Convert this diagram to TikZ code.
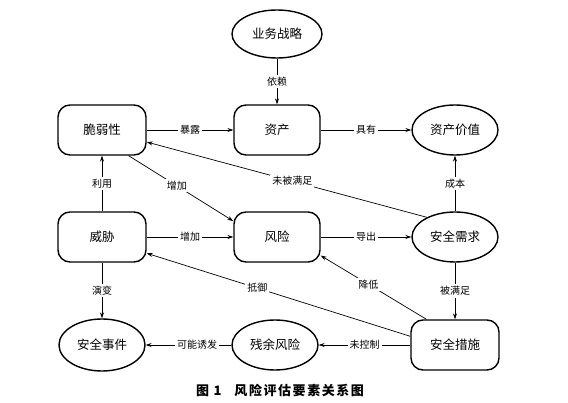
\documentclass[tikz,border=0pt]{standalone}
\usepackage{fontspec}
\setmainfont{Noto Sans CJK SC}
\newfontfamily\capfont[LetterSpace=12]{Noto Sans CJK SC}
\usetikzlibrary{shapes.geometric,arrows.meta}

\begin{document}
\begin{tikzpicture}[x=1pt,y=-1pt,
    box/.style={draw, rounded corners=12pt, line width=1.4pt, minimum width=88pt,
      minimum height=50pt, inner sep=0pt, font=\fontsize{12.5}{14}\selectfont},
    oval/.style={draw, ellipse, line width=1.4pt, minimum width=86pt,
      minimum height=50pt, inner sep=0pt, font=\fontsize{12.5}{14}\selectfont},
    link/.style={line width=0.7pt, -{Stealth[length=6pt,width=4pt]}},
    lbl/.style={fill=white, inner sep=2pt, font=\fontsize{10}{12}\selectfont}]
  \useasboundingbox (0,0) rectangle (568,403);

  % elements
  \node[oval, minimum width=90pt, minimum height=48pt] (strategy) at (277,34) {业务战略};
  \node[box] (vuln) at (102,130) {脆弱性};
  \node[box, minimum width=86pt] (asset) at (277,130) {资产};
  \node[oval] (value) at (455,130) {资产价值};
  \node[box] (threat) at (102,237) {威胁};
  \node[box, minimum width=86pt] (risk) at (277,237) {风险};
  \node[oval] (need) at (455,237) {安全需求};
  \node[oval, minimum height=52pt] (incident) at (102,345) {安全事件};
  \node[oval, minimum height=50pt] (residual) at (275,345) {残余风险};
  \node[box] (measure) at (455,345) {安全措施};

  % straight relations
  \draw[link] (strategy) -- node[lbl] {依赖} (asset);
  \draw[link] (vuln) -- node[lbl] {暴露} (asset);
  \draw[link] (asset) -- node[lbl] {具有} (value);
  \draw[link] (threat) -- node[lbl] {利用} (vuln);
  \draw[link] (threat) -- node[lbl] {增加} (risk);
  \draw[link] (risk) -- node[lbl] {导出} (need);
  \draw[link] (need) -- node[lbl] {成本} (value);
  \draw[link] (need) -- node[lbl] {被满足} (measure);
  \draw[link] (threat) -- node[lbl] {演变} (incident);
  \draw[link] (residual) -- node[lbl, pos=0.4] {可能诱发} (incident);
  \draw[link] (measure) -- node[lbl] {未控制} (residual);

  % diagonal relations
  \draw[link] (need.145) -- node[lbl, pos=0.48] {未被满足} ([yshift=-12pt]vuln.east);
  \draw[link] (vuln.-44) -- node[lbl, pos=0.46] {增加} (risk.160);
  \draw[link] (measure.169) -- node[lbl, pos=0.58] {抵御} (threat.-20);
  \draw[link] (measure.138) -- node[lbl, pos=0.55] {降低} (risk.-23);

  % caption
  \node[font=\capfont\bfseries\fontsize{13}{15}\selectfont] (caption) at (280,391) {图 1\quad 风险评估要素关系图};
\end{tikzpicture}
\end{document}
